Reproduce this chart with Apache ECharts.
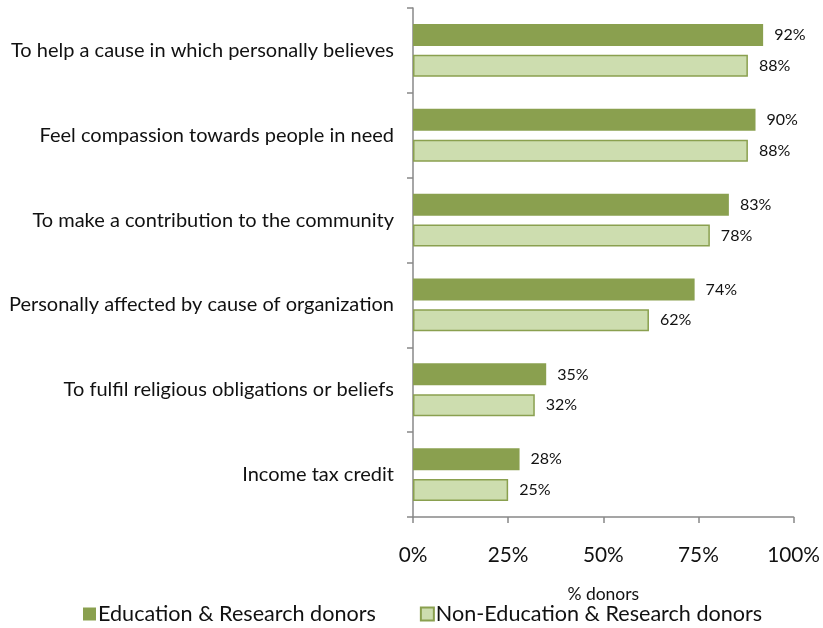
<!DOCTYPE html>
<html>
<head>
<meta charset="utf-8">
<script src="https://cdn.jsdelivr.net/npm/echarts@6/dist/echarts.min.js"></script>
<style>
  html, body { margin: 0; padding: 0; background: #fff; }
  #chart { width: 823px; height: 628px; }
</style>
</head>
<body>
<div id="chart"></div>
<script>
// Motivations for giving, share of donors
const categories = [
  'To help a cause in which personally believes',
  'Feel compassion towards people in need',
  'To make a contribution to the community',
  'Personally affected by cause of organization',
  'To fulfil religious obligations or beliefs',
  'Income tax credit'
];
const eduDonors = [92, 90, 83, 74, 35, 28];
const nonEduDonors = [88, 88, 78, 62, 32, 25];
const seriesNames = ['Education & Research donors', 'Non-Education & Research donors'];
const xTicks = [0, 25, 50, 75, 100];

const FONT = 'Lato';
const DARK = '#8AA04F';
const LIGHT = '#CDDDAF';
const chart = echarts.init(document.getElementById('chart'));

const valueLabel = {
  show: true, position: 'right', distance: 11,
  formatter: '{c}%', fontSize: 16, color: '#111'
};

chart.setOption({
  animation: false,
  textStyle: { fontFamily: FONT },
  legend: {
    top: 598,
    left: 78,
    itemWidth: 13,
    itemHeight: 13,
    itemGap: 44,
    textStyle: { fontSize: 21.6, color: '#111', padding: [0, 0, 0, -3] },
    data: [
      { name: seriesNames[0], icon: 'rect' },
      { name: seriesNames[1], icon: 'rect' }
    ]
  },
  grid: { left: 413, right: 28, top: 8, bottom: 111, containLabel: false },
  xAxis: {
    type: 'value',
    min: xTicks[0],
    max: xTicks[xTicks.length - 1],
    interval: 25,
    name: '% donors',
    nameLocation: 'middle',
    nameGap: 68,
    nameTextStyle: { fontSize: 17.5, color: '#111' },
    axisLine: { show: true, lineStyle: { color: '#888', width: 1.5 } },
    axisTick: { show: true, length: 6, inside: false, lineStyle: { color: '#888', width: 1.5 } },
    splitLine: { show: false },
    axisLabel: { formatter: '{value}%', fontSize: 20.8, color: '#111', margin: 28 }
  },
  yAxis: {
    type: 'category',
    data: categories,
    inverse: true,
    axisLine: { show: true, lineStyle: { color: '#888', width: 1.5 } },
    axisTick: { show: true, length: 6, lineStyle: { color: '#888', width: 1.5 } },
    axisLabel: { fontSize: 20, color: '#111', margin: 19 }
  },
  series: [
    {
      name: seriesNames[0],
      type: 'bar',
      data: eduDonors,
      barWidth: 22,
      barGap: '40%',
      itemStyle: { color: DARK },
      label: valueLabel
    },
    {
      name: seriesNames[1],
      type: 'bar',
      data: nonEduDonors,
      barWidth: 22,
      itemStyle: { color: LIGHT, borderColor: DARK, borderWidth: 1.5 },
      label: valueLabel
    }
  ]
});
</script>
</body>
</html>
